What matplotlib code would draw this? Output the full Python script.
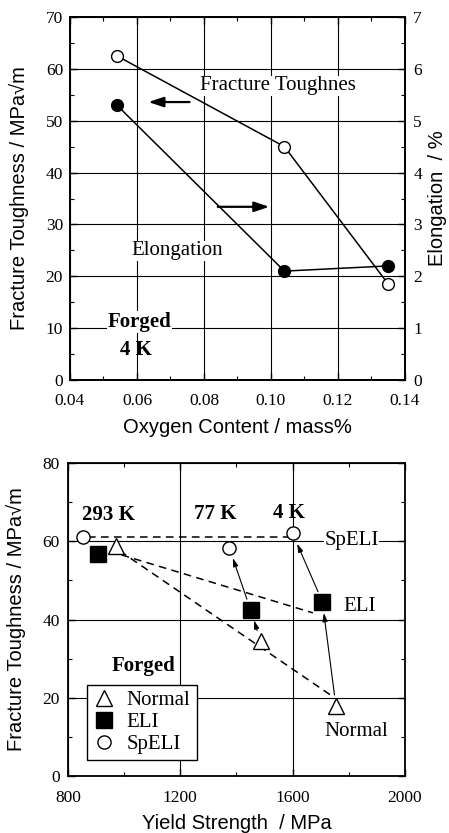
import matplotlib
matplotlib.use("Agg")
import matplotlib.pyplot as plt
from matplotlib.ticker import MultipleLocator

# ---------------- data: top panel ----------------
oxygen = [0.054, 0.104, 0.135]
toughness_top = [62.5, 45.0, 18.5]     # left axis, open circles
elongation = [5.3, 2.1, 2.2]           # right axis, filled circles
oxygen_ticks = ["0.04", "0.06", "0.08", "0.10", "0.12", "0.14"]

# ---------------- data: bottom panel ----------------
temps = ["293 K", "77 K", "4 K"]
normal_ys = [971, 1486, 1754]
normal_kic = [58.8, 34.5, 17.9]
eli_ys = [906, 1450, 1706]
eli_kic = [56.7, 42.5, 44.5]
speli_ys = [852, 1374, 1600]
speli_kic = [61.0, 58.4, 62.0]
# dashed trend lines
speli_trend_x = [870, 1590]
speli_trend_y = [61.2, 61.2]
eli_trend_x = [991, 1672]
eli_trend_y = [56.5, 41.7]
normal_trend_x = [985, 1743]
normal_trend_y = [57.5, 20.3]

SERIF = ["Liberation Serif", "DejaVu Serif"]
SANS = ["Liberation Sans", "DejaVu Sans"]

plt.rcParams['font.family'] = SERIF
plt.rcParams['xtick.direction'] = 'in'
plt.rcParams['ytick.direction'] = 'in'
plt.rcParams['axes.linewidth'] = 1.3

TICK_FS = 12.5
LABEL_FS = 14.5
TEXT_FS = 15

fig = plt.figure(figsize=(4.49, 8.33), dpi=100)

# ================= TOP =================
ax1 = fig.add_axes([0.1559, 0.5438, 0.7461, 0.4358])
ax1.set_xlim(0.04, 0.14)
ax1.set_ylim(0, 70)
ax1.set_xticks([float(t) for t in oxygen_ticks])
ax1.set_xticklabels(oxygen_ticks)
ax1.xaxis.set_minor_locator(MultipleLocator(0.01))
ax1.yaxis.set_major_locator(MultipleLocator(10))
ax1.yaxis.set_minor_locator(MultipleLocator(5))
ax1.grid(True, which='major', color='black', lw=0.8)
ax1.tick_params(which='major', length=5, width=1, labelsize=TICK_FS, top=True)
ax1.tick_params(which='minor', length=3, width=0.8, top=True)
ax1.tick_params(axis='x', pad=9)
ax1.tick_params(axis='y', pad=5, right=False, which='both')

ax2 = ax1.twinx()
ax2.set_ylim(0, 7)
ax2.yaxis.set_major_locator(MultipleLocator(1))
ax2.yaxis.set_minor_locator(MultipleLocator(0.5))
ax2.tick_params(which='major', length=5, width=1, labelsize=TICK_FS, pad=6)
ax2.tick_params(which='minor', length=3, width=0.8)

ax1.plot(oxygen, toughness_top, '-', color='black', lw=1.1, marker='o',
         ms=8.5, mfc='white', mec='black', mew=1.0, zorder=5)
ax2.plot(oxygen, elongation, '-', color='black', lw=1.1, marker='o',
         ms=8.5, mfc='black', mec='black', zorder=5)

ax1.set_ylabel("Fracture Toughness / MPa\u221am", family=SANS, fontsize=LABEL_FS, labelpad=12)
ax2.set_ylabel("Elongation  / %", family=SANS, fontsize=LABEL_FS, labelpad=4)
ax1.set_xlabel("Oxygen Content / mass%", family=SANS, fontsize=LABEL_FS, labelpad=7)

ax1.text(0.102, 56.7, "Fracture Toughnes", ha='center', va='center', fontsize=TEXT_FS,
         bbox=dict(facecolor='white', edgecolor='none', pad=0.5), zorder=6)
ax1.text(0.072, 24.9, "Elongation", ha='center', va='center', fontsize=TEXT_FS,
         bbox=dict(facecolor='white', edgecolor='none', pad=0.5), zorder=6)
ax1.text(0.0607, 11.2, "Forged", ha='center', va='center', fontsize=TEXT_FS, fontweight='bold',
         bbox=dict(facecolor='white', edgecolor='none', pad=0.5), zorder=6)
ax1.text(0.0598, 5.8, "4 K", ha='center', va='center', fontsize=TEXT_FS, fontweight='bold', zorder=6)

arrow_kw = dict(arrowstyle='-|>,head_length=0.9,head_width=0.3', color='black', lw=1.6,
                shrinkA=0, shrinkB=0)
ax1.annotate("", xy=(0.0634, 53.6), xytext=(0.0757, 53.6), arrowprops=arrow_kw, zorder=7)
ax1.annotate("", xy=(0.0995, 33.4), xytext=(0.0841, 33.4), arrowprops=arrow_kw, zorder=7)

# ================= BOTTOM =================
ax3 = fig.add_axes([0.1514, 0.0684, 0.7506, 0.3758])
ax3.set_xlim(800, 2000)
ax3.set_ylim(0, 80)
ax3.xaxis.set_major_locator(MultipleLocator(400))
ax3.xaxis.set_minor_locator(MultipleLocator(200))
ax3.yaxis.set_major_locator(MultipleLocator(20))
ax3.yaxis.set_minor_locator(MultipleLocator(10))
ax3.tick_params(which='major', length=5, width=1, labelsize=TICK_FS, top=True, right=True)
ax3.tick_params(which='minor', length=3, width=0.8, top=True, right=True)
ax3.tick_params(axis='x', pad=10)
ax3.tick_params(axis='y', pad=6)
ax3.grid(True, which='major', color='black', lw=0.8)

ax3.plot(speli_trend_x, speli_trend_y, '--', color='black', lw=1.1, dashes=(5, 3.5))
ax3.plot(eli_trend_x, eli_trend_y, '--', color='black', lw=1.1, dashes=(5, 3.5))
ax3.plot(normal_trend_x, normal_trend_y, '--', color='black', lw=1.1, dashes=(5, 3.5))

ax3.plot(normal_ys, normal_kic, linestyle='none', marker='^', ms=12, mfc='white',
         mec='black', mew=1.0, label='Normal', zorder=5)
ax3.plot(eli_ys, eli_kic, linestyle='none', marker='s', ms=11.5, mfc='black',
         mec='black', label='ELI', zorder=5)
ax3.plot(speli_ys, speli_kic, linestyle='none', marker='o', ms=9.5, mfc='white',
         mec='black', mew=1.0, label='SpELI', zorder=5)

thin_arrow = dict(arrowstyle='-|>,head_length=0.5,head_width=0.15', color='black', lw=0.8,
                  shrinkA=8, shrinkB=8)
for i in (1, 2):
    ax3.annotate("", xy=(eli_ys[i], eli_kic[i]), xytext=(normal_ys[i], normal_kic[i]),
                 arrowprops=thin_arrow, zorder=4)
    ax3.annotate("", xy=(speli_ys[i], speli_kic[i]), xytext=(eli_ys[i], eli_kic[i]),
                 arrowprops=thin_arrow, zorder=4)

temp_x = [943, 1323, 1587]
temp_y = [66.6, 66.9, 67.2]
for t, x, y in zip(temps, temp_x, temp_y):
    ax3.text(x, y, t, ha='center', va='center', fontsize=TEXT_FS, fontweight='bold')

ax3.text(1810, 60.2, "SpELI", ha='center', va='center', fontsize=TEXT_FS,
         bbox=dict(facecolor='white', edgecolor='none', pad=0.5), zorder=6)
ax3.text(1839, 43.3, "ELI", ha='center', va='center', fontsize=TEXT_FS,
         bbox=dict(facecolor='white', edgecolor='none', pad=0.5), zorder=6)
ax3.text(1827, 11.3, "Normal", ha='center', va='center', fontsize=TEXT_FS, zorder=6)
ax3.text(1070, 28.1, "Forged", ha='center', va='center', fontsize=TEXT_FS, fontweight='bold', zorder=6)

leg = ax3.legend(loc='lower left', bbox_to_anchor=(0.057, 0.051), borderaxespad=0,
                 fancybox=False, framealpha=1, edgecolor='black', fontsize=TEXT_FS,
                 handlelength=1.0, handletextpad=0.6, borderpad=0.3, labelspacing=0.1)
leg.get_frame().set_linewidth(1.0)
leg.set_zorder(8)

ax3.set_ylabel("Fracture Toughness / MPa\u221am", family=SANS, fontsize=LABEL_FS, labelpad=12)
ax3.set_xlabel("Yield Strength  / MPa", family=SANS, fontsize=LABEL_FS, labelpad=6)

fig.savefig("out.png", dpi=100)
